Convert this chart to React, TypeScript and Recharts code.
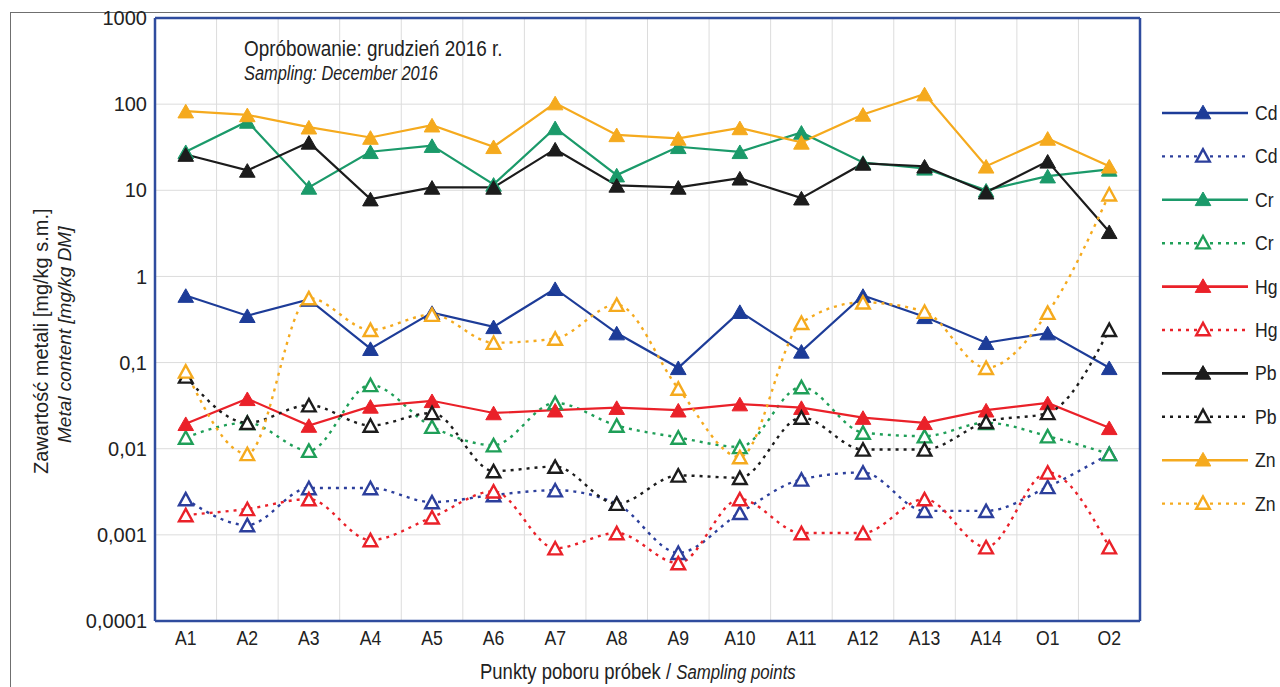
import { LineChart, Line, XAxis, YAxis, CartesianGrid } from 'recharts'

// sampling points along the x axis
const points = ['A1', 'A2', 'A3', 'A4', 'A5', 'A6', 'A7', 'A8', 'A9', 'A10', 'A11', 'A12', 'A13', 'A14', 'O1', 'O2']

// filled markers, solid lines
const cdA = [0.6, 0.35, 0.54, 0.145, 0.38, 0.26, 0.72, 0.22, 0.087, 0.39, 0.135, 0.6, 0.34, 0.17, 0.22, 0.087]
const crA = [28, 63, 10.8, 28, 33, 11.7, 53, 15, 32, 28, 47, 21, 18, 10, 14.6, 17.5]
const hgA = [0.0195, 0.038, 0.0186, 0.031, 0.036, 0.026, 0.028, 0.03, 0.028, 0.033, 0.03, 0.023, 0.02, 0.028, 0.034, 0.0175]
const pbA = [26, 17, 36, 7.9, 10.8, 10.8, 30, 11.4, 10.8, 13.8, 8.1, 20.5, 19, 9.5, 21.7, 3.3]
const znA = [83, 75, 54, 41, 57, 32, 103, 44, 40, 53, 36, 76, 131, 19, 40, 19]

// open markers, dotted lines
const cdB = [0.0026, 0.0013, 0.0035, 0.0035, 0.0024, 0.0029, 0.0033, 0.0023, 0.00062, 0.0018, 0.0044, 0.0053, 0.0019, 0.0019, 0.0036, 0.0087]
const crB = [0.0135, 0.02, 0.0095, 0.055, 0.018, 0.011, 0.034, 0.0186, 0.0135, 0.0105, 0.052, 0.0154, 0.014, 0.02, 0.014, 0.0087]
const hgB = [0.0017, 0.002, 0.0026, 0.00087, 0.0016, 0.0032, 0.0007, 0.00105, 0.00047, 0.0026, 0.00105, 0.00105, 0.0026, 0.00072, 0.0053, 0.00072]
const pbB = [0.069, 0.02, 0.032, 0.0186, 0.026, 0.0055, 0.0062, 0.0023, 0.0049, 0.0046, 0.023, 0.0098, 0.0098, 0.0205, 0.026, 0.24]
const znB = [0.079, 0.0087, 0.56, 0.24, 0.36, 0.17, 0.19, 0.47, 0.05, 0.008, 0.29, 0.5, 0.39, 0.087, 0.38, 9]

const yTicks = [0.0001, 0.001, 0.01, 0.1, 1, 10, 100, 1000]

const SANS = "'Liberation Sans', Arial, sans-serif"
const SQUEEZE = 0.84 // horizontal squeeze for the condensed look
const FRAME = '#2f4c9e'
const INK = '#222'

const series = [
  { key: 'cdA', name: 'Cd', color: '#1d3c98', values: cdA, open: false },
  { key: 'cdB', name: 'Cd', color: '#2c3f9c', values: cdB, open: true },
  { key: 'crA', name: 'Cr', color: '#1b9a6a', values: crA, open: false },
  { key: 'crB', name: 'Cr', color: '#1f9f58', values: crB, open: true },
  { key: 'hgA', name: 'Hg', color: '#ea2129', values: hgA, open: false },
  { key: 'hgB', name: 'Hg', color: '#ea2129', values: hgB, open: true },
  { key: 'pbA', name: 'Pb', color: '#1c1c1c', values: pbA, open: false },
  { key: 'pbB', name: 'Pb', color: '#1c1c1c', values: pbB, open: true },
  { key: 'znA', name: 'Zn', color: '#f5aa1e', values: znA, open: false },
  { key: 'znB', name: 'Zn', color: '#f5aa1e', values: znB, open: true },
]

const rows = points.map((p, i) => {
  const row: Record<string, string | number> = { point: p }
  series.forEach((s) => { row[s.key] = s.values[i] })
  return row
})

const fmt = (v: number) => String(v).replace('.', ',')

function Tri({ cx, cy, color, open }: { cx: number; cy: number; color: string; open: boolean }) {
  if (cx == null || cy == null) return null
  const w = open ? 6.8 : 7.8
  const h = open ? 6.2 : 6.8
  const pts = `${cx},${cy - h} ${cx - w},${cy + h} ${cx + w},${cy + h}`
  return open
    ? <polygon points={pts} fill="#fff" stroke={color} strokeWidth={2.4} />
    : <polygon points={pts} fill={color} stroke={color} strokeWidth={1} />
}

// x tick in a squeezed sans face
function PointTick({ x, y, payload }: any) {
  return (
    <g transform={`translate(${x},${y}) scale(${SQUEEZE},1)`}>
      <text x={0} y={0} dy={16} textAnchor="middle" fontSize={21} fontFamily={SANS} fill={INK}>
        {payload.value}
      </text>
    </g>
  )
}

function LegendBox() {
  const rowGap = 43.4
  return (
    <svg width={130} height={440} style={{ position: 'absolute', left: 1150, top: 90 }}>
      {series.map((s, i) => {
        const y = 23 + i * rowGap
        return (
          <g key={s.key}>
            <line x1={12} x2={98} y1={y} y2={y} stroke={s.color} strokeWidth={s.open ? 2.4 : 2.6}
              strokeDasharray={s.open ? '3 5' : undefined} />
            <Tri cx={53} cy={y - 1} color={s.color} open={s.open} />
            <g transform={`translate(105,${y + 7}) scale(${SQUEEZE},1)`}>
              <text x={0} y={0} fontSize={21} fontFamily={SANS} fill={INK}>{s.name}</text>
            </g>
          </g>
        )
      })}
    </svg>
  )
}

const squeezed = (extra = '', sx = SQUEEZE): React.CSSProperties => ({
  position: 'absolute',
  whiteSpace: 'nowrap',
  fontFamily: SANS,
  color: INK,
  lineHeight: 1,
  transform: `${extra} scaleX(${sx})`,
  transformOrigin: 'left top',
})

export default function App() {
  return (
    <div style={{ position: 'fixed', left: 0, top: 0, width: 1280, height: 687, background: '#fff', overflow: 'hidden' }}>
      <div style={{ position: 'absolute', left: 10, top: 12, width: 1290, height: 700, borderTop: '1px solid #6f6f6f', borderLeft: '1px solid #6f6f6f' }} />
      <LineChart width={1280} height={687} data={rows} margin={{ top: 17, right: 139, bottom: 36, left: 95 }}>
        <CartesianGrid
          stroke="#dcdcdc"
          strokeWidth={1}
          verticalCoordinatesGenerator={({ offset }: any) =>
            points.slice(1).map((_, i) => offset.left + ((i + 1) * offset.width) / points.length)
          }
        />
        <XAxis
          dataKey="point"
          padding={{ left: 30.75, right: 30.75 }}
          height={30}
          tickLine={false}
          tickMargin={2}
          axisLine={{ stroke: FRAME, strokeWidth: 2.5 }}
          tick={<PointTick />}
          interval={0}
        />
        <XAxis xAxisId="top" dataKey="point" orientation="top" height={1} tick={false} tickLine={false}
          padding={{ left: 30.75, right: 30.75 }} axisLine={{ stroke: FRAME, strokeWidth: 2.5 }} />
        <YAxis
          type="number"
          scale="log"
          domain={[0.0001, 1000]}
          ticks={yTicks}
          allowDataOverflow
          width={60}
          tickLine={false}
          tickMargin={2}
          tickFormatter={fmt}
          axisLine={{ stroke: FRAME, strokeWidth: 2.5 }}
          tick={{ fontSize: 20, fontFamily: SANS, fill: INK }}
        />
        <YAxis yAxisId="right" orientation="right" width={1} tick={false} tickLine={false}
          domain={[0, 1]} axisLine={{ stroke: FRAME, strokeWidth: 2.5 }} />
        {series.map((s) => (
          <Line
            key={s.key}
            dataKey={s.key}
            name={s.name}
            type={s.open ? 'monotone' : 'linear'}
            stroke={s.color}
            strokeWidth={s.open ? 2.4 : 2.2}
            strokeDasharray={s.open ? '3 5' : undefined}
            dot={(p: any) => <Tri key={`${s.key}-${p.index}`} cx={p.cx} cy={p.cy} color={s.color} open={s.open} />}
            activeDot={false}
            isAnimationActive={false}
          />
        ))}
      </LineChart>

      <div style={{ ...squeezed(), left: 244, top: 38, fontSize: 22.5 }}>Opróbowanie: grudzień 2016 r.</div>
      <div style={{ ...squeezed(), left: 244, top: 64, fontSize: 19.5, fontStyle: 'italic' }}>Sampling: December 2016</div>

      <div style={{ ...squeezed('translate(31px, 474px) rotate(-90deg)', 1), left: 0, top: 0, fontSize: 20 }}>
        Zawartość metali [mg/kg s.m.]
      </div>
      <div style={{ ...squeezed('translate(55px, 443px) rotate(-90deg)', 1), left: 0, top: 0, fontSize: 19, fontStyle: 'italic' }}>
        Metal content [mg/kg DM]
      </div>

      <div style={{ ...squeezed(), left: 480, top: 661, fontSize: 22 }}>
        Punkty poboru próbek / <span style={{ fontStyle: 'italic', fontSize: 20 }}>Sampling points</span>
      </div>

      <LegendBox />
    </div>
  )
}
